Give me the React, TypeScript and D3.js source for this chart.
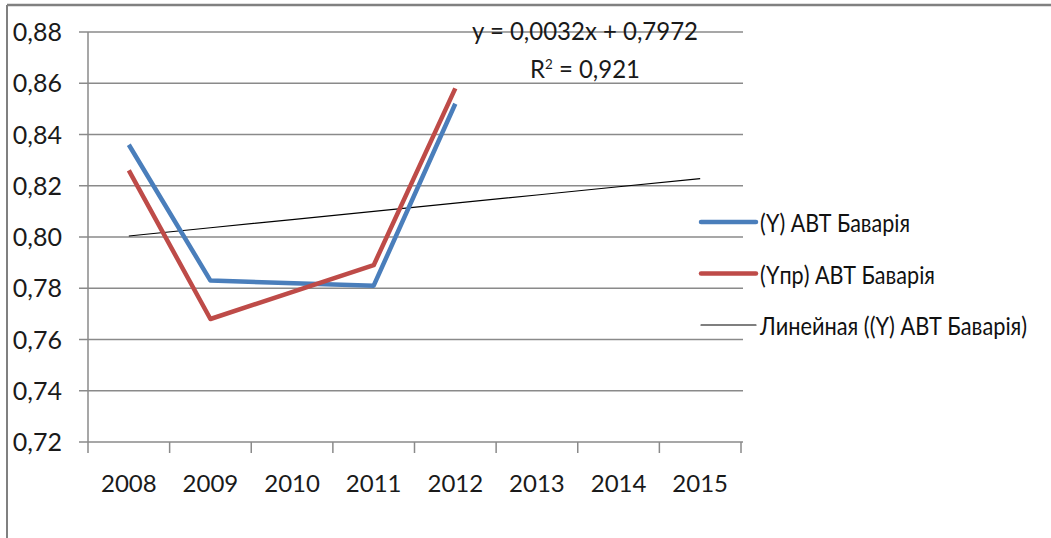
import React from 'react';
import * as d3 from 'd3';

const years = ['2008', '2009', '2010', '2011', '2012', '2013', '2014', '2015'];
const yActual: (number | null)[] = [0.836, 0.783, null, 0.781, 0.852, null, null, null];
const yForecast: (number | null)[] = [0.826, 0.768, null, 0.789, 0.858, null, null, null];
const trendSlope = 0.0032;
const trendIntercept = 0.7972;
const yTicks = [0.72, 0.74, 0.76, 0.78, 0.8, 0.82, 0.84, 0.86, 0.88];
const legendLabels = ['(Y) АВТ Баварія', '(Yпр) АВТ Баварія', 'Линейная ((Y) АВТ Баварія)'];
const equationText = 'y = 0,0032x + 0,7972';
const r2Value = '0,921';

const W = 1051;
const H = 538;
const FONT = 'Lato, "Open Sans", sans-serif';

export default function App() {
  const x = d3.scaleBand<string>().domain(years).range([88, 741]);
  const y = d3.scaleLinear().domain([0.72, 0.88]).range([442, 32]);
  const cx = (i: number) => (x(years[i]) as number) + x.bandwidth() / 2;

  const line = d3
    .line<{ i: number; v: number }>()
    .x((d) => cx(d.i))
    .y((d) => y(d.v));

  const pts = (arr: (number | null)[]) =>
    arr.map((v, i) => ({ i, v })).filter((d) => d.v !== null) as { i: number; v: number }[];

  const trendPts = years.map((_, i) => ({ i, v: trendSlope * (i + 1) + trendIntercept }));
  const fmt = (v: number) => v.toFixed(2).replace('.', ',');
  const grid = '#8a8a8a';

  const legend = [
    { label: legendLabels[0], color: '#4a7ebb', w: 4.5, len: 150 },
    { label: legendLabels[1], color: '#be4b48', w: 4.5, len: 175 },
    { label: legendLabels[2], color: '#000000', w: 1.2, len: 267 },
  ];

  return (
    <svg
      width={W}
      height={H}
      style={{ position: 'absolute', left: 0, top: 0, background: '#fff' }}
      fontFamily={FONT}
    >
      <rect x={0} y={0} width={W} height={H} fill="#fff" />
      {/* outer border */}
      <line x1={7} x2={W} y1={5} y2={5} stroke="#808080" strokeWidth={2.5} />
      <line x1={7} x2={7} y1={5} y2={H} stroke="#808080" strokeWidth={2} />

      {/* gridlines */}
      {yTicks.map((t) => (
        <line key={t} x1={79} x2={743} y1={y(t)} y2={y(t)} stroke={grid} strokeWidth={1.5} />
      ))}
      {/* y axis */}
      <line x1={88} x2={88} y1={32} y2={453} stroke={grid} strokeWidth={1.5} />
      {yTicks.map((t) => (
        <text key={'l' + t} x={62} y={y(t) + 9} textAnchor="end" fontSize={25} fill="#1a1a1a">
          {fmt(t)}
        </text>
      ))}
      {/* x axis ticks */}
      {years.map((yr) => (
        <line
          key={'t' + yr}
          x1={(x(yr) as number) + x.bandwidth()}
          x2={(x(yr) as number) + x.bandwidth()}
          y1={442}
          y2={453}
          stroke={grid}
          strokeWidth={1.5}
        />
      ))}
      {years.map((yr, i) => (
        <text key={'x' + yr} x={cx(i)} y={492} textAnchor="middle" fontSize={24} fill="#1a1a1a">
          {yr}
        </text>
      ))}

      {/* trend */}
      <path d={line(trendPts) || ''} fill="none" stroke="#000" strokeWidth={1.2} />
      {/* series */}
      <path d={line(pts(yActual)) || ''} fill="none" stroke="#4a7ebb" strokeWidth={4.5} strokeLinejoin="round" />
      <path d={line(pts(yForecast)) || ''} fill="none" stroke="#be4b48" strokeWidth={4.5} strokeLinejoin="round" />

      {/* equation */}
      <text x={472} y={40} fontSize={25} fill="#1a1a1a" textLength={226} lengthAdjust="spacingAndGlyphs">
        {equationText}
      </text>
      <text x={530} y={78} fontSize={25} fill="#1a1a1a" textLength={110} lengthAdjust="spacingAndGlyphs">
        R<tspan dy={-9} fontSize={14}>2</tspan>
        <tspan dy={9}>{' = ' + r2Value}</tspan>
      </text>

      {/* legend */}
      {legend.map((l, k) => {
        const ly = 222 + k * 51.5;
        return (
          <g key={l.label}>
            <line x1={701} x2={756} y1={ly} y2={ly} stroke={l.color} strokeWidth={l.w} strokeLinecap="round" />
            <text x={760} y={ly + 10} fontSize={25} fill="#111" textLength={l.len} lengthAdjust="spacingAndGlyphs">
              {l.label}
            </text>
          </g>
        );
      })}
    </svg>
  );
}
